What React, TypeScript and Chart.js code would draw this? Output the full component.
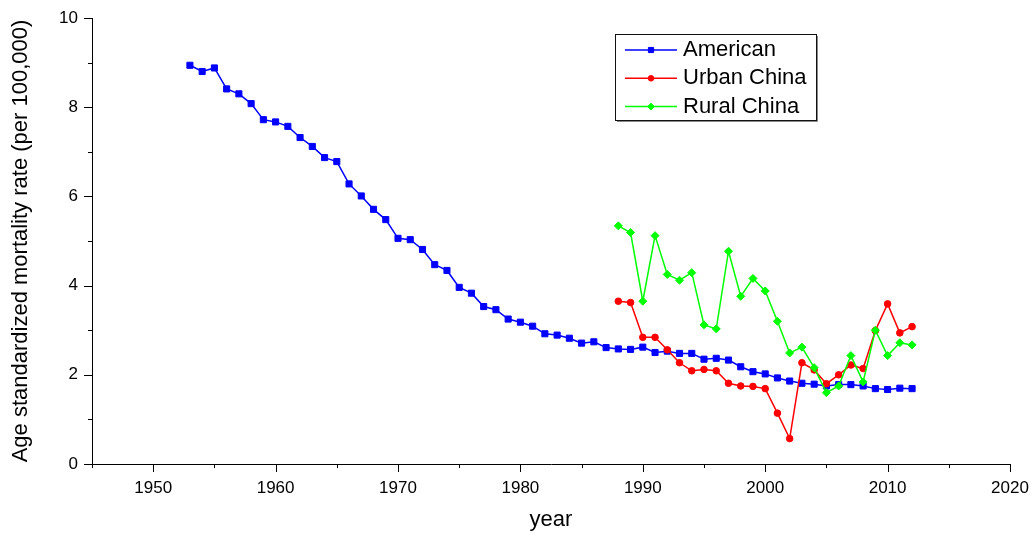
import React, { useEffect, useRef } from 'react';
import { Chart, registerables } from 'chart.js';

Chart.register(...registerables);

const americanYears = [
  1953, 1954, 1955, 1956, 1957, 1958, 1959, 1960, 1961, 1962, 1963, 1964, 1965, 1966, 1967,
  1968, 1969, 1970, 1971, 1972, 1973, 1974, 1975, 1976, 1977, 1978, 1979, 1980, 1981, 1982,
  1983, 1984, 1985, 1986, 1987, 1988, 1989, 1990, 1991, 1992, 1993, 1994, 1995, 1996, 1997,
  1998, 1999, 2000, 2001, 2002, 2003, 2004, 2005, 2006, 2007, 2008, 2009, 2010, 2011, 2012,
];
const americanValues = [
  8.94, 8.8, 8.88, 8.41, 8.3, 8.08, 7.72, 7.67, 7.57, 7.32, 7.12, 6.87, 6.78, 6.28, 6.01,
  5.71, 5.48, 5.06, 5.03, 4.81, 4.47, 4.34, 3.96, 3.83, 3.53, 3.46, 3.25, 3.18, 3.09, 2.92,
  2.89, 2.82, 2.71, 2.74, 2.61, 2.58, 2.57, 2.62, 2.5, 2.53, 2.48, 2.48, 2.35, 2.37, 2.33,
  2.18, 2.07, 2.02, 1.93, 1.86, 1.81, 1.79, 1.75, 1.78, 1.78, 1.75, 1.69, 1.67, 1.7, 1.69,
];

const chinaYears = [
  1988, 1989, 1990, 1991, 1992, 1993, 1994, 1995, 1996, 1997, 1998, 1999, 2000, 2001, 2002,
  2003, 2004, 2005, 2006, 2007, 2008, 2009, 2010, 2011, 2012,
];
const urbanValues = [
  3.65, 3.62, 2.84, 2.84, 2.56, 2.27, 2.09, 2.12, 2.09, 1.81, 1.75, 1.74, 1.69, 1.14, 0.57,
  2.27, 2.11, 1.8, 2.0, 2.22, 2.14, 2.99, 3.59, 2.94, 3.08,
];
const ruralValues = [
  5.34, 5.19, 3.65, 5.12, 4.25, 4.12, 4.29, 3.12, 3.03, 4.77, 3.76, 4.16, 3.88, 3.2, 2.49,
  2.62, 2.16, 1.6, 1.75, 2.43, 1.84, 3.0, 2.43, 2.72, 2.67,
];

const seriesLabels = ['American', 'Urban China', 'Rural China'];
const seriesColors = ['#0000ff', '#ff0000', '#00ff00'];

const xTitle = 'year';
const yTitle = 'Age standardized mortality rate (per 100,000)';

const FONT = "'Liberation Sans', Arial, Helvetica, sans-serif";

const toPoints = (xs: number[], ys: number[]) => xs.map((x, i) => ({ x, y: ys[i] }));

const tickMarksPlugin = {
  id: 'tickMarks',
  afterDraw(chart: any) {
    const { ctx, chartArea } = chart;
    const xs = chart.scales.x;
    const ys = chart.scales.y;
    ctx.save();
    ctx.strokeStyle = '#000';
    ctx.lineWidth = 1;
    xs.ticks.forEach((t: any) => {
      const px = Math.round(xs.getPixelForValue(t.value)) + 0.5;
      const len = t.value % 10 === 0 ? 8 : 4;
      ctx.beginPath();
      ctx.moveTo(px, chartArea.bottom);
      ctx.lineTo(px, chartArea.bottom + len);
      ctx.stroke();
    });
    ys.ticks.forEach((t: any) => {
      const py = Math.round(ys.getPixelForValue(t.value)) + 0.5;
      const len = t.value % 2 === 0 ? 8 : 4;
      ctx.beginPath();
      ctx.moveTo(chartArea.left, py);
      ctx.lineTo(chartArea.left - len, py);
      ctx.stroke();
    });
    ctx.restore();
  },
};

function drawMarker(ctx: CanvasRenderingContext2D, style: string, r: number, x: number, y: number) {
  ctx.beginPath();
  if (style === 'rect') {
    const s = Math.SQRT1_2 * r;
    ctx.rect(x - s, y - s, 2 * s, 2 * s);
  } else if (style === 'rectRot') {
    ctx.moveTo(x - r, y);
    ctx.lineTo(x, y - r);
    ctx.lineTo(x + r, y);
    ctx.lineTo(x, y + r);
    ctx.closePath();
  } else {
    ctx.arc(x, y, r, 0, Math.PI * 2);
  }
  ctx.fill();
  ctx.stroke();
}

const boxLegendPlugin = {
  id: 'boxLegend',
  afterDraw(chart: any, _args: any, opts: any) {
    const { ctx } = chart;
    const { left, top, width, height, rowStart, rowGap, lineX0, lineX1, textX } = opts;
    ctx.save();
    ctx.fillStyle = '#fff';
    ctx.fillRect(left, top, width, height);
    ctx.strokeStyle = '#888';
    ctx.lineWidth = 1;
    ctx.beginPath();
    ctx.moveTo(left + width + 1.5, top + 2);
    ctx.lineTo(left + width + 1.5, top + height + 1.5);
    ctx.lineTo(left + 2, top + height + 1.5);
    ctx.stroke();
    ctx.strokeStyle = '#111';
    ctx.strokeRect(left + 0.5, top + 0.5, width, height);
    chart.data.datasets.forEach((ds: any, i: number) => {
      const y = rowStart + i * rowGap;
      ctx.strokeStyle = ds.borderColor;
      ctx.lineWidth = ds.borderWidth;
      ctx.beginPath();
      ctx.moveTo(lineX0, y);
      ctx.lineTo(lineX1, y);
      ctx.stroke();
      ctx.fillStyle = ds.pointBackgroundColor;
      ctx.strokeStyle = ds.pointBorderColor;
      ctx.lineWidth = ds.pointBorderWidth;
      drawMarker(ctx, ds.pointStyle, ds.pointRadius * 0.85, (lineX0 + lineX1) / 2, y);
      ctx.fillStyle = '#000';
      ctx.font = `22px ${FONT}`;
      ctx.textBaseline = 'middle';
      ctx.textAlign = 'left';
      ctx.fillText(ds.label, textX, y);
    });
    ctx.restore();
  },
};

const zeroPad = (s: any) => {
  s.paddingTop = 0;
  s.paddingBottom = 0;
  s.paddingLeft = 0;
  s.paddingRight = 0;
};

export default function App() {
  const canvasRef = useRef<HTMLCanvasElement | null>(null);

  useEffect(() => {
    if (!canvasRef.current) return;
    Chart.defaults.color = '#000';
    Chart.defaults.font.family = FONT;
    const styles = ['rect', 'circle', 'rectRot'];
    const radii = [4.3, 3.3, 4];
    const series = [
      toPoints(americanYears, americanValues),
      toPoints(chinaYears, urbanValues),
      toPoints(chinaYears, ruralValues),
    ];
    const legendOpts = {
      left: 615,
      top: 34,
      width: 201,
      height: 86,
      rowStart: 50,
      rowGap: 28.3,
      lineX0: 625,
      lineX1: 677,
      textX: 683,
    };
    const chart = new Chart(canvasRef.current, {
      type: 'line',
      data: {
        datasets: series.map((pts, i) => ({
          label: seriesLabels[i],
          data: pts,
          borderColor: seriesColors[i],
          backgroundColor: seriesColors[i],
          pointBackgroundColor: seriesColors[i],
          pointBorderColor: seriesColors[i],
          pointBorderWidth: 1,
          borderWidth: 1.5,
          pointStyle: styles[i],
          pointRadius: radii[i],
          tension: 0,
          fill: false,
          order: 2 - i,
        })),
      },
      options: {
        responsive: false,
        animation: false,
        layout: { padding: { left: 0, top: 18, right: 22, bottom: 0 } },
        plugins: {
          legend: { display: false },
          tooltip: { enabled: false },
          boxLegend: legendOpts,
        } as any,
        scales: {
          x: {
            type: 'linear',
            min: 1945,
            max: 2020,
            grid: { display: false, drawTicks: false },
            border: { display: true, color: '#000', width: 1 },
            ticks: {
              stepSize: 5,
              autoSkip: false,
              maxRotation: 0,
              padding: 14,
              font: { size: 17, family: FONT },
              color: '#000',
              callback: (v: any) => (Number(v) % 10 === 0 ? String(v) : ''),
            },
            title: {
              display: true,
              text: xTitle,
              font: { size: 22, family: FONT },
              color: '#000',
              padding: { top: 0, bottom: 3 },
            },
            afterFit: (s: any) => {
              s.height = 72;
              zeroPad(s);
            },
          },
          y: {
            type: 'linear',
            min: 0,
            max: 10,
            grid: { display: false, drawTicks: false },
            border: { display: true, color: '#000', width: 1 },
            ticks: {
              stepSize: 1,
              autoSkip: false,
              padding: 14,
              font: { size: 17, family: FONT },
              color: '#000',
              callback: (v: any) => (Number(v) % 2 === 0 ? String(v) : ''),
            },
            title: {
              display: true,
              text: yTitle,
              font: { size: 22, family: FONT },
              color: '#000',
              padding: { top: 8, bottom: 0 },
            },
            afterFit: (s: any) => {
              s.width = 92;
              zeroPad(s);
            },
          },
        },
      },
      plugins: [tickMarksPlugin, boxLegendPlugin],
    });
    return () => chart.destroy();
  }, []);

  return (
    <div style={{ position: 'fixed', left: 0, top: 0, width: 1032, height: 536, background: '#fff' }}>
      <canvas ref={canvasRef} width={1032} height={536} style={{ display: 'block' }} />
    </div>
  );
}
